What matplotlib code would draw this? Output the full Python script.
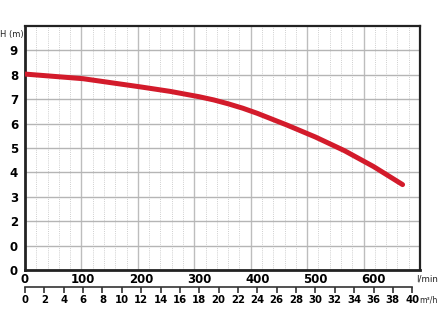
import matplotlib
matplotlib.use("Agg")
import matplotlib.pyplot as plt
import numpy as np

# Data
flow_lmin = [0, 100, 200, 250, 300, 325, 350, 375, 400, 450, 500, 550, 600, 650]
head_m = [8.03, 7.84, 7.50, 7.32, 7.10, 6.97, 6.81, 6.63, 6.42, 5.95, 5.45, 4.89, 4.24, 3.50]
x_ticks = [0, 100, 200, 300, 400, 500, 600]
y_ticks = [0, 1, 2, 3, 4, 5, 6, 7, 8, 9]
y_ticklabels = ['0', '0', '2', '3', '4', '5', '6', '7', '8', '9']
m3h_ticks = list(range(0, 41, 2))

XMAX = 680
W, H = 440, 330
fig = plt.figure(figsize=(4.4, 3.3), dpi=100)
ax = fig.add_axes([25/W, 60/H, 395/W, 244/H])

ax.set_xlim(0, XMAX)
ax.set_ylim(0, 10)

# Grid (independent of labels, as in the original)
for k in range(1, 7):
    ax.axvline(XMAX * k / 7, color='#bdbdbd', lw=1.0, zorder=1)
for k in range(35):
    if k % 5:
        ax.axvline(XMAX * k / 35, color='#cfcfcf', lw=0.7, ls=(0, (1, 1.2)), zorder=1)
for y in range(1, 10):
    ax.axhline(y, color='#b5b5b5', lw=1.0, zorder=1)

ax.plot(flow_lmin, head_m, color='#d31b2b', lw=3.6, solid_capstyle='round',
        solid_joinstyle='round', zorder=3)

for s in ax.spines.values():
    s.set_color('#222222')
    s.set_linewidth(1.6)
ax.spines['left'].set_linewidth(2.0)
ax.spines['bottom'].set_linewidth(2.0)

font = dict(family='DejaVu Sans', weight='bold')
ax.set_xticks(x_ticks)
ax.set_xticklabels([str(v) for v in x_ticks], fontsize=8.5, **font)
ax.tick_params(axis='x', length=0, pad=2)
ax.set_yticks(y_ticks)
ax.set_yticklabels(y_ticklabels, fontsize=8.5, **font)
ax.tick_params(axis='y', length=0, pad=5)

fig.text(0/W, 1 - 34/H, 'H (m)', fontsize=6.0, ha='left', va='center', color='#222222')
fig.text(416/W, 1 - 279/H, 'l/min', fontsize=6.3, ha='left', va='center', color='#222222')
fig.text(419/W, 1 - 300/H, 'm³/h', fontsize=5.6, ha='left', va='center', color='#222222')

sec = ax.secondary_xaxis(-17/244, functions=(lambda x: x * 0.06, lambda m: m / 0.06))
sec.set_xticks(m3h_ticks)
sec.set_xticklabels([str(v) for v in m3h_ticks], fontsize=7.3, **font)
sec.tick_params(axis='x', length=4, width=1.2, color='#333333', pad=1.5)
sec.spines['bottom'].set_color('#333333')
sec.spines['bottom'].set_linewidth(1.2)
sec.spines['bottom'].set_bounds(0, 40)

fig.savefig('out.png', dpi=100)
